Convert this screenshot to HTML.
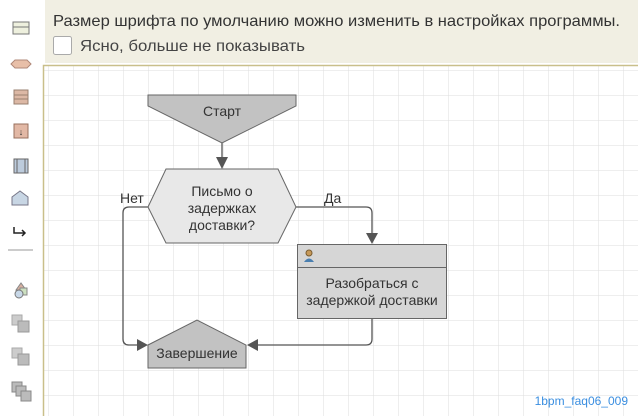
<!DOCTYPE html>
<html><head><meta charset="utf-8"><style>
body{margin:0;width:638px;height:416px;overflow:hidden;background:#fff;font-family:"Liberation Sans",sans-serif;}
</style></head><body>
<svg width="638" height="416" xmlns="http://www.w3.org/2000/svg" style="position:absolute;left:0;top:0">
<defs>
<pattern id="g" x="48" y="70" width="25" height="25" patternUnits="userSpaceOnUse">
<path d="M0 0H25M0 0V25" stroke="#dedede" stroke-width="1" fill="none"/>
</pattern>
</defs>
<rect x="0" y="0" width="44" height="416" fill="#fff"/>
<rect x="44" y="65" width="594" height="351" fill="url(#g)"/>
<path d="M43.5 416V65.5H638" stroke="#c9bf8a" stroke-width="1.5" fill="none"/>
<rect x="45" y="0" width="593" height="63" fill="#f1efe3"/>
<text x="53" y="26" font-size="16" fill="#333" textLength="567" lengthAdjust="spacingAndGlyphs">Размер шрифта по умолчанию можно изменить в настройках программы.</text>
<rect x="53.5" y="36.5" width="18" height="18" rx="2" fill="#fff" stroke="#aaa"/>
<text x="80" y="51" font-size="16" fill="#444" textLength="225" lengthAdjust="spacingAndGlyphs">Ясно, больше не показывать</text>
<!-- toolbar -->
<rect x="13" y="22" width="16" height="12" fill="#eef0de" stroke="#777"/><line x1="13" y1="27" x2="29" y2="27" stroke="#777"/>
<path d="M11 64L15 60H27L31 64L27 68H15Z" fill="#e8bfa8" stroke="#b08878"/>
<rect x="14" y="90" width="14" height="14" fill="#dcb8a5" stroke="#9a8070"/><path d="M14 95H28M14 99H28" stroke="#9a8070"/>
<rect x="14" y="124" width="14" height="14" fill="#e2b8a5" stroke="#98705e"/><text x="21" y="135" font-size="9" text-anchor="middle" fill="#333">↓</text>
<rect x="14" y="159" width="14" height="14" fill="#bccbdc" stroke="#666"/><path d="M17 159V173M25 159V173" stroke="#666"/>
<path d="M12 205V197L20 191L28 197V205Z" fill="#c8d6e4" stroke="#778"/>
<path d="M14 227V233H25M22 230L25 233L22 236" stroke="#222" stroke-width="1.5" fill="none"/>
<line x1="8" y1="250" x2="33" y2="250" stroke="#999"/>
<path d="M16 290L21 283L26 290Z" fill="#d8b0a0" stroke="#888"/><rect x="20" y="288" width="7" height="7" fill="#cce0c0" stroke="#888"/><circle cx="19" cy="294" r="4" fill="#c8d8e8" stroke="#777"/>
<rect x="12" y="315" width="10" height="10" fill="#ccc" stroke="#aaa"/><rect x="18" y="321" width="11" height="11" fill="#bbb" stroke="#999"/>
<rect x="12" y="348" width="10" height="10" fill="#ccc" stroke="#aaa"/><rect x="18" y="354" width="11" height="11" fill="#bbb" stroke="#999"/>
<rect x="12" y="382" width="10" height="10" fill="#bbb" stroke="#888"/><rect x="16" y="386" width="10" height="10" fill="#bbb" stroke="#888"/><rect x="21" y="391" width="10" height="10" fill="#bbb" stroke="#888"/>
<!-- connectors -->
<g stroke="#555" stroke-width="1.3" fill="none">
<path d="M222 143V160"/>
<path d="M296 207H366Q372 207 372 213V235"/>
<path d="M148 207H129Q123 207 123 213V339Q123 345 129 345H140"/>
<path d="M372 318V339Q372 345 366 345H256"/>
</g>
<g fill="#555">
<path d="M216 157H228L222 169Z"/>
<path d="M366 233H378L372 244Z"/>
<path d="M137 339V351L148 345Z"/>
<path d="M258 339V351L247 345Z"/>
</g>
<!-- shapes -->
<path d="M148 95H296V106L222 143L148 106Z" fill="#c2c2c2" stroke="#666"/>
<text x="222" y="116" font-size="14" text-anchor="middle" fill="#333">Старт</text>
<path d="M166 169H278L296 207L278 243H166L148 207Z" fill="#e8e8e8" stroke="#666"/>
<g font-size="14" text-anchor="middle" fill="#333">
<text x="222" y="196">Письмо о</text><text x="222" y="213">задержках</text><text x="222" y="230">доставки?</text>
</g>
<text x="120" y="203" font-size="14" fill="#333">Нет</text>
<text x="324" y="203" font-size="14" fill="#333">Да</text>
<rect x="297.5" y="244.5" width="149" height="74" fill="#d6d6d6" stroke="#666"/>
<line x1="297" y1="267.5" x2="446" y2="267.5" stroke="#666"/>
<circle cx="309" cy="253" r="3" fill="#c79a5a" stroke="#7a5c30"/><path d="M304 262Q309 255 314 262Z" fill="#4a7fb0"/>
<g font-size="14" text-anchor="middle" fill="#333">
<text x="372" y="288">Разобраться с</text><text x="372" y="305">задержкой доставки</text>
</g>
<path d="M148 345L197 320L246 345V368H148Z" fill="#c2c2c2" stroke="#666"/>
<text x="197" y="358" font-size="14" text-anchor="middle" fill="#333">Завершение</text>
<text x="628" y="405" font-size="12" text-anchor="end" fill="#3a8ee0">1bpm_faq06_009</text>
</svg>
</body></html>
